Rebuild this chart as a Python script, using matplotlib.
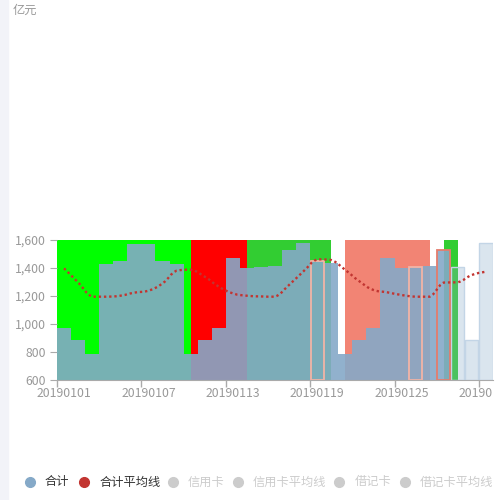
import numpy as np
import matplotlib
matplotlib.use("Agg")
import matplotlib.pyplot as plt
from matplotlib.path import Path
from matplotlib.patches import PathPatch, Rectangle
from matplotlib.lines import Line2D
from matplotlib.transforms import Bbox

plt.rcParams['font.family'] = ['Noto Sans CJK SC', 'DejaVu Sans']

# data
dates = ['201901%02d' % d for d in range(1, 32)]
total = [973, 886, 786, 1426, 1452, 1574, 1574, 1452, 1426, 786, 886, 973, 1469, 1400,
         1405, 1414, 1526, 1576, 1450, 1433, 786, 888, 974, 1471, 1400, 1405, 1414, 1526,
         1405, 888, 1576]
total_avg = [1398, 1297, 1195, 1195, 1202, 1224, 1238, 1290, 1381, 1388, 1338, 1267, 1219,
             1202, 1197, 1195, 1279, 1374, 1462, 1457, 1386, 1305, 1243, 1226, 1207, 1195,
             1195, 1296, 1298, 1350, 1374]
light_dates = ['20190129', '20190130', '20190131']
# mark areas (None = start of axis)
area_from = [None, '20190110', '20190114', '20190121', '20190128']
area_to = ['20190110', '20190114', '20190120', '20190127', '20190129']
area_colors = ['#00ff00', '#ff0000', '#32cd32', '#f28474', '#32cd32']
legend_names = ['合计', '合计平均线', '信用卡', '信用卡平均线', '借记卡', '借记卡平均线']

# styles
bar_color = '#85a9c8'
line_color = '#c23531'
edge_marks = {'20190119': '#f3b4a6', '20190126': '#f3b4a6', '20190128': '#e57c6c'}
fs = 8.8

fig = plt.figure(figsize=(5, 5), dpi=100)
fig.add_artist(Rectangle((0, 0), 8 / 500, 1, transform=fig.transFigure,
                         color='#f2f3f8', zorder=0))
ax = fig.add_axes([57 / 500, 1 - 380 / 500, 436 / 500, 140 / 500])

idx = {d: i for i, d in enumerate(dates)}
x = np.arange(len(dates))

for a, b, c in zip(area_from, area_to, area_colors):
    x0 = -0.5 if a is None else idx[a]
    ax.axvspan(x0, idx[b], color=c, lw=0, zorder=1)

for i, d in enumerate(dates):
    if d in light_dates:
        ax.bar(i, total[i] - 600, bottom=600, width=1.0, color=bar_color, alpha=0.3,
               lw=0, zorder=2)
        ax.bar(i, total[i] - 600, bottom=600, width=0.93, fill=False,
               edgecolor='#c3d5e6', lw=1, zorder=2)
    else:
        ax.bar(i, total[i] - 600, bottom=600, width=1.0, color=bar_color, alpha=0.9,
               lw=0, zorder=2)
    if d in edge_marks:
        ax.bar(i, total[i] - 600, bottom=600, width=0.93, fill=False,
               edgecolor=edge_marks[d], lw=1.3, zorder=3)

# smooth dotted average line
ys = np.array(total_avg, dtype=float)
verts = [(x[0], ys[0])]
codes = [Path.MOVETO]
k = 0.25
for i in range(len(x) - 1):
    pi, ni = max(i - 1, 0), min(i + 2, len(x) - 1)
    lo, hi = min(ys[i], ys[i + 1]), max(ys[i], ys[i + 1])
    c1 = (x[i] + k * (x[i + 1] - x[pi]), np.clip(ys[i] + k * (ys[i + 1] - ys[pi]), lo, hi))
    c2 = (x[i + 1] - k * (x[ni] - x[i]), np.clip(ys[i + 1] - k * (ys[ni] - ys[i]), lo, hi))
    verts += [c1, c2, (x[i + 1], ys[i + 1])]
    codes += [Path.CURVE4] * 3
ax.add_patch(PathPatch(Path(verts, codes), fill=False, edgecolor=line_color, lw=1.7,
                       linestyle=(0, (1, 1.2)), zorder=4))

ax.set_xlim(-0.5, len(dates) - 0.5)
ax.set_ylim(600, 1600)
ax.set_yticks([600, 800, 1000, 1200, 1400, 1600])
ax.set_yticklabels(['{:,}'.format(v) for v in [600, 800, 1000, 1200, 1400, 1600]])
ax.set_xticks(np.arange(-0.5, len(dates), 6))
ax.set_xticklabels([])
ax.set_xticks(x[::6], minor=True)
ax.set_xticklabels(dates[::6], minor=True)
ax.tick_params(axis='x', which='major', length=5, color='#aaaaaa', width=1)
ax.tick_params(axis='x', which='minor', length=0, pad=5, labelsize=fs, labelcolor='#999999')
ax.tick_params(axis='y', length=5, color='#aaaaaa', pad=3, labelsize=fs,
               labelcolor='#999999')
for s in ['top', 'right', 'left']:
    ax.spines[s].set_visible(False)
ax.spines['bottom'].set_color('#aaaaaa')
ax.spines['bottom'].set_zorder(5)
ax.set_facecolor('none')

# the last date label is cut at the chart edge, as in the original
clip = Bbox.from_extents(0, 0, 493, 500)
for lbl in ax.get_xticklabels(minor=True):
    lbl.set_clip_box(clip)
    lbl.set_clip_on(True)

fig.text(13 / 500, 1 - 10 / 500, '亿元', fontsize=fs, color='#999999', va='center', ha='left')

# legend
icon_x = [30, 84, 173, 238, 339, 405]
text_x = [45, 100, 188, 253, 355, 420]
icon_c = [bar_color, line_color, '#cccccc', '#cccccc', '#cccccc', '#cccccc']
text_c = ['#333333', '#333333', '#cccccc', '#cccccc', '#cccccc', '#cccccc']
ly = 1 - 482 / 500
for name, ix, tx, ic, tc in zip(legend_names, icon_x, text_x, icon_c, text_c):
    fig.add_artist(Line2D([ix / 500], [ly], marker='o', markersize=7, color=ic, lw=0,
                          transform=fig.transFigure))
    fig.text(tx / 500, ly, name, fontsize=fs, color=tc, va='center', ha='left')

fig.savefig('out.png', dpi=100)
